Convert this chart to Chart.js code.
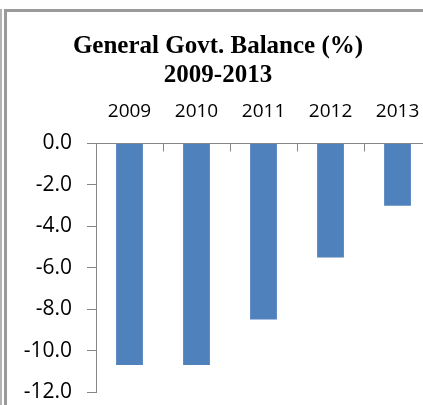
<!DOCTYPE html>
<html>
<head>
<meta charset="utf-8">
<script src="https://cdn.jsdelivr.net/npm/chart.js@4.4.1/dist/chart.umd.min.js"></script>
<style>
    html, body { margin: 0; padding: 0; background: #fff; overflow: hidden; }
    #wrap { position: relative; width: 423px; height: 405px; overflow: hidden; }
    #balanceChart { position: absolute; left: 0; top: 0; }
    .edge { position: absolute; background: #9a9a9a; }
</style>
</head>
<body>
<div id="wrap">
    <canvas id="balanceChart" width="450" height="405"></canvas>
    <div class="edge" style="left:0;top:9px;width:2px;height:396px;background:#b4b4b4"></div>
    <div class="edge" style="left:4px;top:9px;width:3px;height:396px"></div>
    <div class="edge" style="left:4px;top:9px;width:419px;height:3px"></div>
</div>
<script>
const years = ['2009', '2010', '2011', '2012', '2013'];
const balance = [-10.7, -10.7, -8.5, -5.5, -3.0];
const titleLines = ['General Govt. Balance (%)', '2009-2013'];
const axisMin = -12;
const axisMax = 0;
const axisStep = 2;

const axisGray = '#868686';

document.addEventListener('DOMContentLoaded', () => {
    const ctx = document.getElementById('balanceChart');
    new Chart(ctx, {
        type: 'bar',
        data: {
            labels: years,
            datasets: [{
                data: balance,
                backgroundColor: '#4F81BD',
                borderWidth: 0,
                categoryPercentage: 1,
                barPercentage: 0.4
            }]
        },
        options: {
            responsive: false,
            animation: false,
            layout: { padding: { left: 3.5, right: 17.5, top: 22, bottom: 13 } },
            plugins: {
                legend: { display: false },
                tooltip: { enabled: false },
                title: {
                    display: true,
                    text: titleLines,
                    color: '#000',
                    font: { family: '"Liberation Serif", serif', size: 25, weight: 'bold', lineHeight: 1.15 },
                    padding: { top: 10, bottom: 0 }
                }
            },
            scales: {
                x: {
                    position: 'top',
                    offset: true,
                    grid: {
                        offset: true,
                        drawOnChartArea: false,
                        color: axisGray,
                        tickLength: -8
                    },
                    border: { color: axisGray },
                    ticks: {
                        color: '#000',
                        padding: 29,
                        font: { family: '"Open Sans", sans-serif', size: 19 }
                    },
                    afterFit: scale => { scale.height = 54; }
                },
                y: {
                    min: axisMin,
                    max: axisMax,
                    grid: {
                        drawOnChartArea: false,
                        color: axisGray,
                        tickLength: 9
                    },
                    border: { color: axisGray },
                    ticks: {
                        stepSize: axisStep,
                        color: '#000',
                        padding: 15,
                        font: { family: '"Open Sans", sans-serif', size: 21 },
                        callback: v => v.toFixed(1)
                    },
                    // fixed axis width; label padding should not push the plot edges
                    afterFit: scale => {
                        scale.width = 92.5;
                        scale.paddingTop = 0;
                        scale.paddingBottom = 0;
                    }
                }
            }
        }
    });
});
</script>
</body>
</html>
